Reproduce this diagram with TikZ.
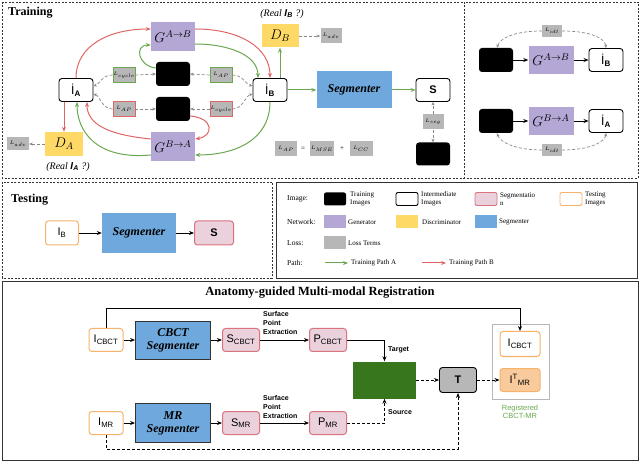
\RequirePackage{fix-cm}
\documentclass[tikz,border=0pt]{standalone}
\usepackage{fontspec}
\setmainfont{Liberation Serif}
\setsansfont{Liberation Sans}
\usetikzlibrary{arrows.meta}
\definecolor{genc}{HTML}{B4A7D6}
\definecolor{discc}{HTML}{FFD966}
\definecolor{segc}{HTML}{6FA8DC}
\definecolor{lossc}{HTML}{B7B7B7}
\definecolor{pathA}{HTML}{6AA84F}
\definecolor{pathB}{HTML}{E06666}
\definecolor{segfill}{HTML}{EAD1DC}
\definecolor{segdraw}{HTML}{D9737F}
\definecolor{testc}{HTML}{F6B26B}
\definecolor{regc}{HTML}{38761D}
\definecolor{itmr}{HTML}{F9CB9C}
\definecolor{dashc}{HTML}{888888}
\definecolor{framec}{HTML}{333333}
\newcommand\fsz[1]{\fontsize{#1}{#1}\selectfont}
\tikzset{
  panel/.style={draw=framec, line width=0.8pt, dash pattern=on 2pt off 1.5pt},
  img/.style={draw=black, fill=white, rounded corners=3pt, line width=0.9pt, minimum width=34pt, minimum height=23pt, inner sep=0pt, font=\sffamily\fsz{12}},
  trainimg/.style={fill=black, rounded corners=3pt, minimum width=34pt, minimum height=24pt, inner sep=0pt},
  gen/.style={fill=genc, minimum width=44pt, minimum height=29pt, inner sep=0pt, font=\fsz{14}},
  disc/.style={fill=discc, minimum width=38pt, minimum height=24pt, inner sep=0pt, font=\fsz{14}},
  segm/.style={fill=segc, inner sep=0pt, font=\bfseries\itshape\fsz{12}},
  loss/.style={fill=lossc, minimum width=22pt, minimum height=15pt, inner sep=0pt, font=\fsz{5}},
  lossg/.style={loss, draw=pathA, line width=0.8pt},
  lossr/.style={loss, draw=pathB, line width=0.8pt},
  testimg/.style={draw=testc, fill=white, rounded corners=3pt, line width=1pt, inner sep=0pt, font=\sffamily\fsz{11}},
  segimg/.style={draw=segdraw, fill=segfill, rounded corners=3pt, line width=1pt, inner sep=0pt, font=\sffamily\fsz{11}},
  garr/.style={draw=pathA, line width=1pt, -{Stealth[length=5pt,width=4pt]}},
  rarr/.style={draw=pathB, line width=1pt, -{Stealth[length=5pt,width=4pt]}},
  darr/.style={draw=dashc, line width=0.7pt, dash pattern=on 3pt off 2pt, -{Stealth[length=3.5pt,width=3pt]}},
  barr/.style={draw=black, line width=0.8pt, -{Stealth[length=5pt,width=4pt]}},
  bdarr/.style={draw=black, line width=0.9pt, dash pattern=on 3pt off 2pt, -{Stealth[length=5pt,width=4pt]}},
  legtxt/.style={anchor=west, align=left, inner sep=0pt, font=\fontsize{7}{8.5}\selectfont},
  rowlab/.style={anchor=west, inner sep=0pt, font=\fsz{7.5}},
  sw/.style={minimum width=22pt, minimum height=13pt, inner sep=0pt, rounded corners=2pt},
  smlab/.style={inner sep=0pt, font=\sffamily\bfseries\fontsize{7}{9}\selectfont},
}
\begin{document}
\begin{tikzpicture}[x=1pt, y=-1pt]
\useasboundingbox (0,0) rectangle (640,462);
% ---------- panels ----------
\draw[panel] (2,2) rectangle (464,178);
\draw[panel] (464,2) rectangle (638,178);
\draw[panel] (2,182) rectangle (272,278);
\draw[draw=framec, line width=0.8pt] (276,182) rectangle (637,278);
\draw[draw=framec, line width=1pt] (2,282) rectangle (638,460);

% ---------- training ----------
\node[anchor=west, inner sep=0pt, font=\bfseries\fsz{12}] (ttl) at (8,13) {Training};
\node[img] (iA) at (76,90) {İ\textsubscript{\bfseries A}};
\node[img] (iB) at (270,90) {İ\textsubscript{\bfseries B}};
\node[gen] (gab) at (173,37) {$G^{A\rightarrow B}$};
\node[gen] (gba) at (173,147) {$G^{B\rightarrow A}$};
\node[trainimg] (ta) at (173,74) {};
\node[trainimg] (tb) at (173,109) {};
\node[lossg] (lc1) at (124,75) {$L_{cycle}$};
\node[lossg] (lap1) at (221,75) {$L_{AP}$};
\node[lossr] (lap2) at (124,109) {$L_{AP}$};
\node[lossr] (lc2) at (221,109) {$L_{cycle}$};
\node[disc] (da) at (64,144) {$D_A$};
\node[loss, minimum width=22pt, minimum height=13pt] (ladvA) at (18,144) {$L_{adv}$};
\node[inner sep=0pt, font=\itshape\fsz{10}] (realA) at (68,167) {(Real {\sffamily\bfseries I}\textsubscript{\sffamily\bfseries A} ?)};
\node[disc, minimum width=37pt, minimum height=23pt] (db) at (280,36) {$D_B$};
\node[loss, minimum width=21pt, minimum height=15pt] (ladvB) at (331,36) {$L_{adv}$};
\node[inner sep=0pt, font=\itshape\fsz{10}] (realB) at (282,14) {(Real {\sffamily\bfseries I}\textsubscript{\sffamily\bfseries B} ?)};
\node[segm, minimum width=75pt, minimum height=37pt] (seg) at (354,90) {Segmenter};
\node[img, font=\sffamily\bfseries\fsz{11}] (s) at (433,90) {S};
\node[loss, minimum width=21pt] (lseg) at (433,122) {$L_{seg}$};
\node[trainimg, minimum height=23pt] (ts) at (433,154) {};
\node[loss] (lap3) at (286,149) {$L_{AP}$};
\node[inner sep=0pt, font=\fsz{7}] (eq) at (303,149) {=};
\node[loss, minimum width=24pt] (lmse) at (322,149) {$L_{MSE}$};
\node[inner sep=0pt, font=\fsz{7}] (pl) at (342,149) {+};
\node[loss, minimum width=23pt] (lcc) at (361,149) {$L_{CC}$};

% training connectors
\draw[rarr] (iA.north) .. controls (76,45) and (110,29) .. ([yshift=8pt]gab.west);
\draw[rarr] ([yshift=8pt]gab.east) .. controls (240,29) and (270,48) .. (iB.north);
\draw[garr] ([yshift=-7pt]gab.east) .. controls (228,44) and (258,55) .. ([xshift=-12pt]iB.north);
\draw[garr] ([yshift=6pt]ta.west) .. controls (138,66) and (134,45) .. ([yshift=-8pt]gab.west);
\draw[rarr] ([yshift=-7pt]tb.east) .. controls (214,118) and (214,136) .. ([yshift=8pt]gba.east);
\draw[rarr] ([yshift=8pt]gba.west) .. controls (110,135) and (87,125) .. ([xshift=11pt]iA.south);
\draw[garr] ([yshift=-8pt]gba.west) .. controls (95,160) and (77,130) .. ([xshift=1pt]iA.south);
\draw[garr] (iB.south) .. controls (270,140) and (235,155) .. ([yshift=-8pt]gba.east);
\draw[rarr] (da.north |- iA.south) -- (da.north);
\draw[garr] (db.south |- iB.north) -- (db.south);
\draw[garr] (iB) -- (seg);
\draw[garr] (seg) -- (s);

\draw[darr] (lc1.west) .. controls (102,75) and (100,84) .. ([yshift=4pt]iA.east);
\draw[darr] (lc1.east) -- (ta.west);
\draw[darr] (lap1.east) .. controls (243,75) and (245,84) .. ([yshift=4pt]iB.west);
\draw[darr] (lap1.west) -- (ta.east);
\draw[darr] (lap2.west) .. controls (102,109) and (100,96) .. ([yshift=-4pt]iA.east);
\draw[darr] (lap2.east) -- (tb.west);
\draw[darr] (lc2.east) .. controls (243,109) and (245,96) .. ([yshift=-4pt]iB.west);
\draw[darr] (lc2.west) -- (tb.east);
\draw[darr] (da.west) -- (ladvA.east);
\draw[darr] (db.east) -- (ladvB.west);
\draw[darr] (lseg.north) -- (s.south);
\draw[darr] (lseg.south) -- (ts.north);

% ---------- identity panel ----------
\node[trainimg] (ra) at (496,60) {};
\node[gen, minimum width=45pt, minimum height=28pt] (rgab) at (551,60) {$G^{A\rightarrow B}$};
\node[img] (rib) at (606,60) {İ\textsubscript{\bfseries B}};
\node[loss, minimum width=20pt, minimum height=12pt] (lidt1) at (552,31) {$L_{idt}$};
\node[trainimg] (rb) at (496,121) {};
\node[gen, minimum width=45pt, minimum height=28pt] (rgba) at (551,121) {$G^{B\rightarrow A}$};
\node[img] (ria) at (606,121) {İ\textsubscript{\bfseries A}};
\node[loss, minimum width=20pt, minimum height=12pt] (lidt2) at (552,150) {$L_{idt}$};
\draw[barr] (ra) -- (rgab);
\draw[barr] (rgab) -- (rib);
\draw[barr] (rb) -- (rgba);
\draw[barr] (rgba) -- (ria);
\draw[darr] (lidt1.west) .. controls (515,31) and (500,38) .. ([xshift=1pt]ra.north);
\draw[darr] (lidt1.east) .. controls (590,31) and (605,38) .. (rib.north);
\draw[darr] (lidt2.west) .. controls (515,150) and (500,142) .. ([xshift=1pt]rb.south);
\draw[darr] (lidt2.east) .. controls (590,150) and (605,142) .. (ria.south);

% ---------- testing ----------
\node[anchor=west, inner sep=0pt, font=\bfseries\fsz{12}] (tst) at (11,200) {Testing};
\node[testimg, minimum width=33pt, minimum height=24pt] (tib) at (62,233) {I\textsubscript{B}};
\node[segm, minimum width=74pt, minimum height=40pt] (tseg) at (139,233) {Segmenter};
\node[segimg, minimum width=39pt, minimum height=24pt, font=\sffamily\bfseries\fsz{11}] (tsn) at (214,233) {S};
\draw[barr] (tib) -- (tseg);
\draw[barr] (tseg) -- (tsn);

% ---------- legend ----------
\node[rowlab] (lr1) at (287,199) {Image:};
\node[rowlab] (lr2) at (287,222) {Network:};
\node[rowlab] (lr3) at (287,243) {Loss:};
\node[rowlab] (lr4) at (287,263) {Path:};
\node[sw, fill=black] (sw1) at (335,199) {};
\node[legtxt] (lt1) at (350,199) {Training\\Images};
\node[sw, draw=black, line width=0.9pt, fill=white] (sw2) at (407,199) {};
\node[legtxt] (lt2) at (421,199) {Intermediate\\Images};
\node[sw, draw=segdraw, line width=0.9pt, fill=segfill] (sw3) at (486,199) {};
\node[legtxt] (lt3) at (500,199) {Segmentatio\\n};
\node[sw, draw=testc, line width=0.9pt, fill=white] (sw4) at (571,199) {};
\node[legtxt] (lt4) at (585,199) {Testing\\Images};
\node[sw, fill=genc, rounded corners=0pt] (sw5) at (335,222) {};
\node[legtxt] (lt5) at (348,222) {Generator};
\node[sw, fill=discc, rounded corners=0pt] (sw6) at (407,222) {};
\node[legtxt] (lt6) at (422,222) {Discriminator};
\node[sw, fill=segc, rounded corners=0pt] (sw7) at (486,222) {};
\node[legtxt] (lt7) at (499,222) {Segmenter};
\node[sw, fill=lossc, rounded corners=0pt] (sw8) at (335,243) {};
\node[legtxt] (lt8) at (348,243) {Loss Terms};
\coordinate (pa1) at (325,263);
\coordinate (pa2) at (348,263);
\coordinate (pb1) at (422,263);
\coordinate (pb2) at (446,263);
\draw[garr] (pa1) -- (pa2);
\node[legtxt] (lt9) at (351,263) {Training Path A};
\draw[rarr] (pb1) -- (pb2);
\node[legtxt] (lt10) at (449,263) {Training Path B};

% ---------- registration ----------
\node[inner sep=0pt, font=\bfseries\fsz{12.5}] (rtitle) at (320,293) {Anatomy-guided Multi-modal Registration};
\node[testimg, minimum width=34pt, minimum height=23pt] (icb) at (106,340) {I\textsubscript{CBCT}};
\node[segm, draw=framec, line width=0.8pt, minimum width=75pt, minimum height=38pt, align=center, font=\bfseries\itshape\fontsize{12}{13}\selectfont] (cseg) at (173,340) {CBCT\\Segmenter};
\node[segimg, minimum width=37pt, minimum height=23pt] (scb) at (241,340) {S\textsubscript{CBCT}};
\node[segimg, minimum width=37pt, minimum height=23pt] (pcb) at (328,340) {P\textsubscript{CBCT}};
\node[testimg, minimum width=34pt, minimum height=23pt] (imr) at (106,423) {I\textsubscript{MR}};
\node[segm, draw=framec, line width=0.8pt, minimum width=75pt, minimum height=39pt, align=center, font=\bfseries\itshape\fontsize{12}{13}\selectfont] (mseg) at (173,423) {MR\\Segmenter};
\node[segimg, minimum width=37pt, minimum height=23pt] (smr) at (241,423) {S\textsubscript{MR}};
\node[segimg, minimum width=37pt, minimum height=23pt] (pmr) at (328,423) {P\textsubscript{MR}};
\node[fill=regc, minimum width=63pt, minimum height=37pt, inner sep=0pt] (rg) at (384.5,380) {};
\node[draw=black, fill=lossc, rounded corners=3pt, line width=0.9pt, minimum width=37pt, minimum height=25pt, inner sep=0pt, font=\sffamily\bfseries\fsz{11}] (T) at (458,380) {T};
\node[draw=lossc, line width=0.9pt, minimum width=57pt, minimum height=75pt, inner sep=0pt] (rbox) at (520.5,361.5) {};
\node[testimg, minimum width=40pt, minimum height=25pt] (icb2) at (520,344) {I\textsubscript{CBCT}};
\node[testimg, fill=itmr, minimum width=40pt, minimum height=23pt] (imr2) at (520,380) {I\textsuperscript{T}\textsubscript{MR}};
\node[inner sep=0pt, align=center, text=pathA, font=\sffamily\fontsize{7.5}{8.5}\selectfont] (regtxt) at (520,412) {Registered\\CBCT-MR};
\node[smlab, anchor=north west, align=left] (spe1) at (263,311) {Surface\\Point\\Extraction};
\node[smlab, anchor=north west, align=left] (spe2) at (263,395) {Surface\\Point\\Extraction};
\node[smlab, anchor=west] (tgt) at (388,350) {Target};
\node[smlab, anchor=west] (src) at (388,412) {Source};
\coordinate (c1) at (106,308);
\coordinate (c2) at (520,308);
\coordinate (c3) at (106,449);

\draw[barr] (icb) -- (cseg);
\draw[barr] (cseg) -- (scb);
\draw[barr] (scb) -- (pcb);
\draw[barr] (imr) -- (mseg);
\draw[barr] (mseg) -- (smr);
\draw[barr] (smr) -- (pmr);
\draw[barr] (icb.north) -- (c1) -- (c2) -- (icb2.north);
\draw[barr] (pcb.east) -| (rg.north);
\draw[bdarr] (pmr.east) -| (rg.south);
\draw[bdarr] (rg.east) -- (T.west);
\draw[bdarr] (imr.south) -- (c3) -| (T.south);
\draw[bdarr] (T.east) -- (imr2.west);
\end{tikzpicture}
\end{document}
